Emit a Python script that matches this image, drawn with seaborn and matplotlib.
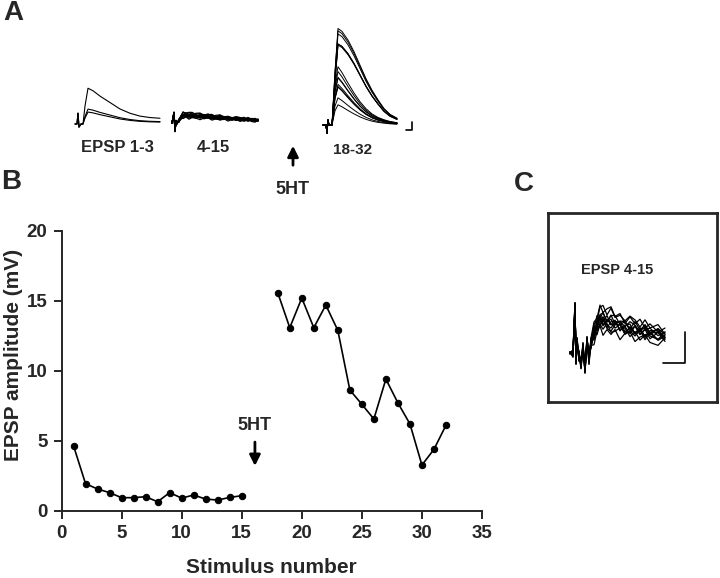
import numpy as np
import pandas as pd
import seaborn as sns
import matplotlib.pyplot as plt

# ---- panel B data: EPSP amplitude (mV) per stimulus ----
stim_pre = [1, 2, 3, 4, 5, 6, 7, 8, 9, 10, 11, 12, 13, 14, 15]
amp_pre = [4.64, 1.93, 1.55, 1.29, 0.93, 0.93, 1.0, 0.64, 1.29, 0.9, 1.12, 0.83, 0.76, 0.95, 1.07]
stim_post = [18, 19, 20, 21, 22, 23, 24, 25, 26, 27, 28, 29, 30, 31, 32]
amp_post = [15.57, 13.07, 15.19, 13.07, 14.69, 12.88, 8.62, 7.6, 6.55, 9.4, 7.7, 6.2, 3.26, 4.38, 6.1]

# ---- panel A traces (time in ms from sweep start, voltage in mV) ----
t_a1 = [0, 2, 3, 4, 6, 8, 10, 13, 18, 25, 35, 45, 55, 65, 75, 85]
art_a1 = [0, 0, 1.4, -0.4, 0, 0, 0, 0, 0, 0, 0, 0, 0, 0, 0, 0]
shape_a1 = [0, 0, 0, 0, 0, 0, 0.5, 1.0, 0.93, 0.78, 0.6, 0.42, 0.3, 0.22, 0.18, 0.16]

t_a2 = [0, 2, 3, 4, 5, 7, 9, 11, 14, 17, 20, 24, 28, 32, 36, 40, 44, 48, 52, 56,
        60, 64, 68, 72, 76, 80, 83, 86]
art_a2 = [0, 1.3, -1.0, 0.2] + [0] * 24
shape_a2 = [0, 0, 0, 0, 0, 0.3, 0.75, 1.0, 1.05, 1.0, 0.97, 0.93, 0.89, 0.85, 0.81,
            0.77, 0.73, 0.69, 0.65, 0.61, 0.57, 0.53, 0.5, 0.47, 0.44, 0.41, 0.39, 0.37]

t_a3 = [0, 3, 4, 5, 6, 9, 12, 15, 19, 25, 31, 37, 43, 49, 55, 61, 67, 74]
art_a3 = [0, 0, -1.3, 0.8] + [0] * 14
shape_big = [0, 0, 0, 0, 0, 0, 0.55, 1.0, 0.97, 0.88, 0.76, 0.62, 0.48, 0.36, 0.26, 0.17, 0.11, 0.07]
shape_small = [0, 0, 0, 0, 0, 0, 0.7, 1.0, 0.9, 0.72, 0.55, 0.4, 0.28, 0.19, 0.13, 0.09, 0.06, 0.04]

# ---- panel C traces (EPSP 4-15, expanded) ----
t_c = [0, 3, 5, 6, 7, 9, 11, 13, 15, 17, 19, 21, 24, 27, 30, 33, 37, 41, 45, 50,
       55, 60, 65, 70, 75, 80, 88, 95]
art_c = [0, 0, 1.35, -0.2, 0.3, -0.1, -0.3, 0.15, -0.45, 0.35, -0.15] + [0] * 17
shape_c = [0] * 11 + [0.3, 0.6, 0.85, 1.0, 1.0, 0.97, 0.93, 0.88, 0.83, 0.78, 0.74,
                      0.7, 0.67, 0.64, 0.61, 0.57, 0.53]

noise = [
    [0.00, 0.05, -0.10, 0.12, -0.15, 0.08, -0.05, 0.15, -0.12, 0.10, -0.18, 0.06, 0.14, -0.08,
     0.12, -0.10, 0.05, 0.16, -0.06, 0.09, -0.14, 0.11, -0.04, 0.13, -0.09, 0.07, -0.12, 0.05],
    [0.02, -0.08, 0.12, -0.06, 0.10, -0.14, 0.09, -0.10, 0.16, -0.05, 0.11, -0.13, 0.04, 0.15,
     -0.11, 0.08, -0.16, 0.06, 0.12, -0.09, 0.05, -0.12, 0.14, -0.07, 0.10, -0.15, 0.08, -0.04],
    [-0.03, 0.10, -0.05, 0.14, -0.09, 0.12, -0.16, 0.05, -0.07, 0.13, -0.10, 0.17, -0.12, 0.06,
     -0.04, 0.14, -0.08, -0.13, 0.10, 0.15, -0.10, 0.04, -0.08, 0.12, -0.14, 0.09, 0.13, -0.10],
    [0.04, -0.12, 0.07, -0.13, 0.15, -0.04, 0.11, -0.15, 0.08, -0.12, 0.06, -0.08, 0.16, -0.11,
     0.09, -0.06, 0.13, -0.10, -0.03, 0.11, 0.14, -0.08, 0.10, -0.13, 0.05, 0.12, -0.06, 0.09],
    [-0.02, 0.07, 0.13, -0.11, 0.05, -0.10, 0.14, -0.06, 0.12, -0.15, 0.09, 0.03, -0.14, 0.10,
     0.16, -0.12, 0.07, -0.05, 0.13, -0.14, 0.08, 0.15, -0.11, 0.04, 0.12, -0.08, -0.14, 0.11],
    [0.03, -0.04, -0.12, 0.09, -0.07, 0.15, -0.11, 0.10, -0.14, 0.07, 0.13, -0.09, 0.08, -0.15,
     0.06, 0.11, -0.13, 0.12, -0.09, 0.04, -0.06, 0.13, 0.07, -0.10, 0.15, -0.05, 0.10, -0.13],
]

sns.set_style('ticks')
plt.rcParams['font.family'] = ['Liberation Sans', 'DejaVu Sans']
plt.rcParams['font.weight'] = 'bold'

W, H = 720, 578
fig = plt.figure(figsize=(W / 100, H / 100), dpi=100)


def px_axes(x0, y0, x1, y1):
    # axes placed by pixel box (top-left origin)
    return fig.add_axes([x0 / W, 1 - y1 / H, (x1 - x0) / W, (y1 - y0) / H])


def traces_df(t, art, shapes, amps, noise_rows=None):
    rows = []
    for i, (shp, a) in enumerate(zip(shapes, amps)):
        v = np.array(art) + a * np.array(shp)
        if noise_rows is not None:
            v = v + np.array(noise_rows[i % len(noise_rows)])
        rows.append(pd.DataFrame({'t': t, 'v': v, 'sweep': i}))
    return pd.concat(rows, ignore_index=True)


def draw_traces(ax, df, lw=0.7):
    sns.lineplot(data=df, x='t', y='v', units='sweep', estimator=None, color='black',
                 linewidth=lw, ax=ax, legend=False, sort=False)


# overlay for labels and arrows
ov = fig.add_axes([0, 0, 1, 1])
ov.set_xlim(0, W)
ov.set_ylim(H, 0)
ov.axis('off')

# ---- panel A ----
ax_a1 = px_axes(70, 80, 165, 140)
draw_traces(ax_a1, traces_df(t_a1, art_a1, [shape_a1] * 3, amp_pre[:3]), lw=0.8)
ax_a1.set_xlim(-5, 90)
ax_a1.set_ylim(-2.08, 5.71)
ax_a1.axis('off')

ax_a2 = px_axes(168, 80, 262, 140)
draw_traces(ax_a2, traces_df(t_a2, art_a2, [shape_a2] * 12, amp_pre[3:], noise), lw=0.9)
ax_a2.set_xlim(-4, 90)
ax_a2.set_ylim(-2.21, 5.58)
ax_a2.axis('off')

ax_a3 = px_axes(318, 20, 415, 140)
shapes3 = [shape_big if a > 12 else shape_small for a in amp_post]
draw_traces(ax_a3, traces_df(t_a3, art_a3, shapes3, amp_post), lw=0.7)
ax_a3.plot([83, 89, 89], [-0.81, -0.81, 0.48], color='black', lw=1.2)
ax_a3.set_xlim(-5, 92)
ax_a3.set_ylim(-2.42, 16.94)
ax_a3.axis('off')

ov.text(13, 13, 'A', fontsize=20, fontweight='bold', ha='center', va='center')
ov.text(117, 147, 'EPSP 1-3', fontsize=12, fontweight='bold', ha='center', va='center')
ov.text(213, 147, '4-15', fontsize=12, fontweight='bold', ha='center', va='center')
ov.text(353, 150, '18-32', fontsize=11, fontweight='bold', ha='center', va='center')
ov.annotate('', xy=(293, 143), xytext=(293, 168),
            arrowprops=dict(arrowstyle='-|>', color='black', lw=2, mutation_scale=16))
ov.text(293, 190, '5HT', fontsize=13, fontweight='bold', ha='center', va='center')

# ---- panel B ----
df_b = pd.DataFrame({
    'stim': stim_pre + stim_post,
    'amp': amp_pre + amp_post,
    'phase': ['pre'] * len(stim_pre) + ['post'] * len(stim_post),
})
ax = px_axes(61.5, 230.7, 482, 510.7)
sns.lineplot(data=df_b, x='stim', y='amp', units='phase', estimator=None, color='black',
             marker='o', markersize=4.6, markeredgecolor='black', linewidth=1.2, ax=ax,
             legend=False)
ax.set_xlim(0, 35)
ax.set_ylim(0, 20)
ax.set_xticks(range(0, 36, 5))
ax.set_yticks(range(0, 21, 5))
sns.despine(ax=ax)
for s in ['left', 'bottom']:
    ax.spines[s].set_linewidth(1.4)
ax.tick_params(direction='out', length=6, width=1.4, labelsize=13.5, pad=4)
for lab in ax.get_xticklabels() + ax.get_yticklabels():
    lab.set_fontweight('bold')
ax.set_xlabel('Stimulus number', fontsize=15, fontweight='bold', labelpad=12)
ax.set_ylabel('EPSP amplitude (mV)', fontsize=15, fontweight='bold')
ax.yaxis.set_label_coords(-0.092, 0.556)
ax.annotate('', xy=(16.1, 3.0), xytext=(16.1, 5.1),
            arrowprops=dict(arrowstyle='-|>', color='black', lw=2, mutation_scale=16))
ax.text(16.1, 6.1, '5HT', fontsize=13, fontweight='bold', ha='center', va='center')
ov.text(11, 182, 'B', fontsize=20, fontweight='bold', ha='center', va='center')

# ---- panel C ----
ax_c = px_axes(548, 213, 717, 402)
draw_traces(ax_c, traces_df(t_c, art_c, [shape_c] * 12, amp_pre[3:], noise), lw=0.9)
ax_c.plot([93, 115, 115], [-0.29, -0.29, 0.62], color='black', lw=1.2)
ax_c.set_xlim(-22, 147)
ax_c.set_ylim(-1.441, 4.118)
ax_c.set_xticks([])
ax_c.set_yticks([])
ax_c.set_xlabel('')
ax_c.set_ylabel('')
for s in ax_c.spines.values():
    s.set_visible(True)
    s.set_linewidth(2)
ax_c.text(0.41, 0.7, 'EPSP 4-15', transform=ax_c.transAxes, fontsize=10.5,
          fontweight='bold', ha='center', va='center')
ov.text(524, 184, 'C', fontsize=20, fontweight='bold', ha='center', va='center')

fig.savefig('out.png', dpi=100)
